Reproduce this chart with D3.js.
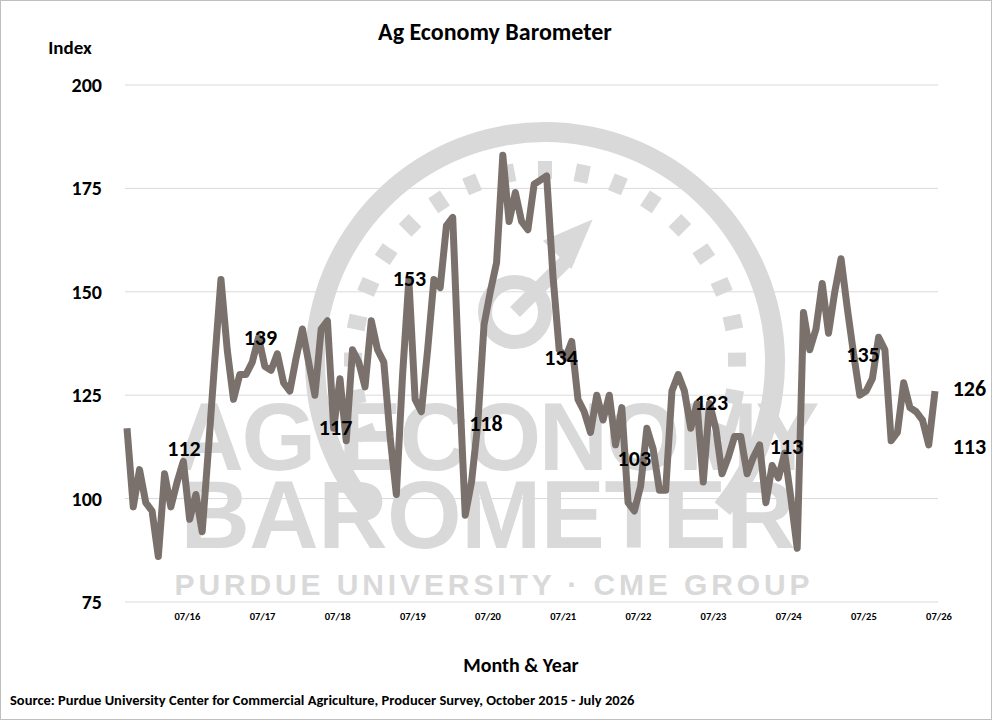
<!DOCTYPE html>
<html><head><meta charset="utf-8">
<script src="https://cdn.jsdelivr.net/npm/d3@7"></script>
<style>body{margin:0;background:#fff}svg{display:block;font-family:Calibri,Carlito,"Liberation Sans",Arial,sans-serif}</style>
</head><body>
<svg id="c" width="992" height="720"></svg>
<script>
const values = [117,98,107,
 99,97,86,106,98,104,109,95,101,92,112,133,
 153,136,124,130,130,133,139,132,131,135,128,126,
 134,141,133,125,141,143,117,129,114,136,133,127,
 143,136,133,115,101,130,153,124,121,136,153,151,
 166,168,130,96,104,118,142,150,157,183,167,174,
 167,165,176,177,178,154,136,134,138,124,121,116,
 125,119,125,113,122,99,97,103,117,112,102,102,
 126,130,126,117,123,104,123,117,106,110,115,115,
 106,110,113,99,108,105,111,100,88,145,136,141,
 152,140,150,158,146,135,125,126,129,139,136,114,
 116,128,122,121,119,113,126];
const yTicks = [75,100,125,150,175,200];
const xTickLabels = ["07/16","07/17","07/18","07/19","07/20","07/21","07/22","07/23","07/24","07/25","07/26"];
const xTickIndex = [9,21,33,45,57,69,81,93,105,117,129];
const labelText = ["112","139","117","153","118","134","103","123","113","135","126","113"];
const labelX = [9.1,21.3,33.3,45.1,57.3,69.3,81,93.3,105.3,117.5,134.5,134.5];
const labelY = [112,138.8,117,153,118,134,109.6,123,112.5,134.7,126.5,112.5];

const svg = d3.select("#c");
svg.append("rect").attr("x",0.5).attr("y",0.5).attr("width",991).attr("height",719).attr("fill","#fff").attr("stroke","#bfbfbf");
const x = d3.scaleLinear().domain([0,129]).range([127,935]);
const y = d3.scaleLinear().domain([75,200]).range([602,85]);
const wm = "#d9d9d9";

// watermark
const g0 = svg.append("g");
const cx=545, cy=362, r=240;
g0.append("path").attr("d", d3.arc().innerRadius(r-20).outerRadius(r).startAngle(-Math.PI*0.72).endAngle(Math.PI*0.72)()).attr("transform",`translate(${cx},${cy})`).attr("fill",wm);
d3.range(-0.62,0.63,0.062).forEach(t=>{
  const a=t*Math.PI, rr=r-48;
  g0.append("rect").attr("x",-7).attr("y",-rr-9).attr("width",14).attr("height",18).attr("fill",wm)
   .attr("transform",`translate(${cx},${cy}) rotate(${a*180/Math.PI})`);
});
g0.append("circle").attr("cx",cx-30).attr("cy",cy-50).attr("r",30).attr("fill","none").attr("stroke",wm).attr("stroke-width",14);
g0.append("line").attr("x1",cx-30).attr("y1",cy-50).attr("x2",cx+25).attr("y2",cy-105).attr("stroke",wm).attr("stroke-width",14);
g0.append("path").attr("d",`M${cx+40},${cy-135} L${cx+5},${cy-120} L${cx+25},${cy-100} Z`).attr("fill",wm).attr("stroke",wm).attr("stroke-width",8);
g0.append("text").attr("x",497).attr("y",470).attr("text-anchor","middle").attr("font-size",96).attr("font-weight","bold")
  .attr("textLength",645).attr("fill",wm).attr("font-family","Liberation Sans").text("AG ECONOMY");
g0.append("text").attr("x",488).attr("y",548).attr("text-anchor","middle").attr("font-size",96).attr("font-weight","bold")
  .attr("textLength",615).attr("fill",wm).attr("font-family","Liberation Sans").text("BAROMETER");
g0.append("text").attr("x",492).attr("y",595).attr("text-anchor","middle").attr("font-size",30).attr("font-weight","bold")
  .attr("textLength",635).attr("fill",wm).attr("font-family","Liberation Sans").text("PURDUE UNIVERSITY · CME GROUP");

// grid
svg.append("g").selectAll("line").data(yTicks).join("line")
  .attr("x1",125).attr("x2",938).attr("y1",d=>y(d)).attr("y2",d=>y(d)).attr("stroke","#d9d9d9").attr("stroke-width",1);
svg.append("g").selectAll("text").data(yTicks).join("text")
  .attr("x",102).attr("y",d=>y(d)+7).attr("text-anchor","end").attr("font-size",20).attr("font-weight","bold").text(d=>d);
svg.append("g").selectAll("text").data(xTickIndex).join("text")
  .attr("x",d=>x(d)+4).attr("y",620).attr("text-anchor","middle").attr("font-size",10.5).attr("font-weight","bold")
  .text((d,i)=>xTickLabels[i]);

// line
svg.append("path").datum(values).attr("fill","none").attr("stroke","#7a716c").attr("stroke-width",7).attr("stroke-linejoin","round")
  .attr("d", d3.line().x((d,i)=>x(i)).y(d=>y(d)));

// labels
svg.append("g").selectAll("text").data(labelText).join("text")
  .attr("x",(d,i)=>x(labelX[i])).attr("y",(d,i)=>y(labelY[i])+7).attr("text-anchor","middle")
  .attr("font-size",22).attr("font-weight","bold").text(d=>d);

svg.append("text").attr("x",495).attr("y",40).attr("text-anchor","middle").attr("font-size",24).attr("font-weight","bold").text("Ag Economy Barometer");
svg.append("text").attr("x",70).attr("y",54).attr("text-anchor","middle").attr("font-size",19).attr("font-weight","bold").text("Index");
svg.append("text").attr("x",521).attr("y",672).attr("text-anchor","middle").attr("font-size",20).attr("font-weight","bold").text("Month & Year");
svg.append("text").attr("x",10).attr("y",705).attr("font-size",14.5).attr("font-weight","bold").text("Source: Purdue University Center for Commercial Agriculture, Producer Survey, October 2015 - July 2026");
</script>
</body></html>
